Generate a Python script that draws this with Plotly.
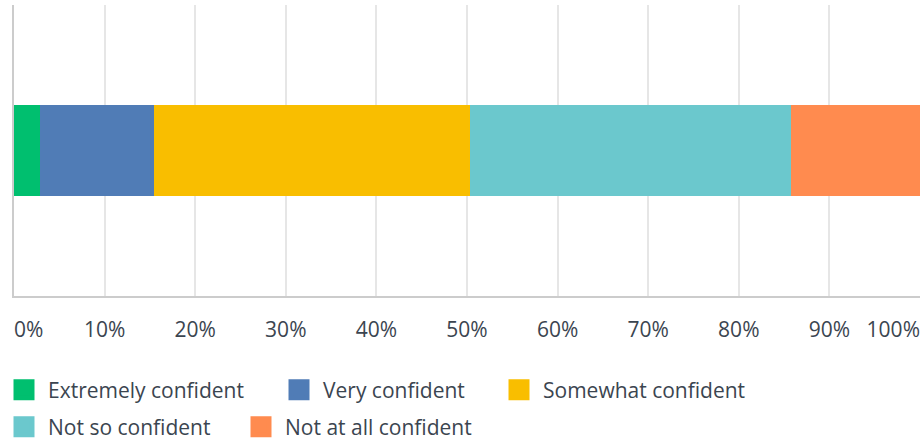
import plotly.graph_objects as go

# --- DATA ---
categories = ["Q"]
series_names = ["Extremely confident", "Very confident", "Somewhat confident",
                "Not so confident", "Not at all confident"]
series_values = [2.9, 12.6, 34.8, 35.5, 14.2]
colors = ["#00bf6f", "#507cb6", "#f9be00", "#6bc8cd", "#ff8b4f"]
tick_vals = [10, 20, 30, 40, 50, 60, 70, 80, 90]
tick_text = ["10%", "20%", "30%", "40%", "50%", "60%", "70%", "80%", "90%"]
start_tick, start_text = [0], ["0%"]
end_tick, end_text = [100], ["100%"]

TEXT = "#3b4550"
FONT = "Open Sans"
FS = 21
L, R, T, B = 14, 4, 5, 146
W, H = 924, 442
PW, PH = W - L - R, H - T - B

# legend entry placement (pixel: left of box, row centre)
leg_px = [(0, 390), (275, 390), (495, 390), (0, 427), (237, 427)]

fig = go.Figure()
for i, (name, val, col) in enumerate(zip(series_names, series_values, colors)):
    lg = "legend" if i == 0 else f"legend{i + 1}"
    fig.add_trace(go.Bar(y=categories, x=[val], orientation="h", name=name,
                         marker=dict(color=col, line=dict(width=0)),
                         showlegend=False, hoverinfo="name+x"))
    # a bigger square swatch for the legend
    fig.add_trace(go.Scatter(x=[None], y=[None], mode="markers", name=name,
                             marker=dict(symbol="square", size=16, color=col,
                                         line=dict(color=col, width=7)),
                             showlegend=True, legend=lg))
    px, py = leg_px[i]
    fig.update_layout({lg: dict(
        orientation="h", xanchor="left", yanchor="middle",
        x=(px - L) / PW, y=(H - B - py) / PH,
        font=dict(size=FS, color=TEXT), itemsizing="trace", itemwidth=38,
        bgcolor="rgba(0,0,0,0)")})

# empty traces so the two end-label axes get drawn
for ax in ["x2", "x3"]:
    fig.add_trace(go.Scatter(x=[None], y=[None], xaxis=ax, yaxis="y",
                             showlegend=False, hoverinfo="skip"))

axis_common = dict(range=[0, 100], zeroline=False, ticklabelstandoff=14,
                   automargin=False, fixedrange=True)
fig.update_layout(
    width=W, height=H,
    barmode="stack", bargap=0.69,
    plot_bgcolor="white", paper_bgcolor="white",
    margin=dict(l=L, r=R, t=T, b=B, autoexpand=False),
    font=dict(family=FONT, size=FS, color=TEXT),
    xaxis=dict(axis_common, tickvals=tick_vals, ticktext=tick_text,
               showgrid=True, gridcolor="#e6e6e6", gridwidth=2,
               showline=True, linecolor="#cccccc", linewidth=2),
    # end labels sit inside the plot width, as in the reference
    xaxis2=dict(axis_common, overlaying="x", anchor="y", side="bottom",
                tickvals=start_tick, ticktext=start_text, showgrid=False,
                showline=False, ticklabelposition="outside right",
                ticklabelstandoff=19),
    xaxis3=dict(axis_common, overlaying="x", anchor="y", side="bottom",
                tickvals=end_tick, ticktext=end_text, showgrid=True,
                gridcolor="#e6e6e6", gridwidth=2, showline=False,
                ticklabelposition="outside left", ticklabelstandoff=19),
    yaxis=dict(showticklabels=False, showgrid=False, range=[-0.5, 0.5],
               showline=True, linecolor="#cccccc", linewidth=2,
               zeroline=False, automargin=False, fixedrange=True),
)

# drop the page's default body margin so the figure sits at the window corner
fig.write_html("out.html", config={"displayModeBar": False},
               post_script="document.body.style.margin='0';")
